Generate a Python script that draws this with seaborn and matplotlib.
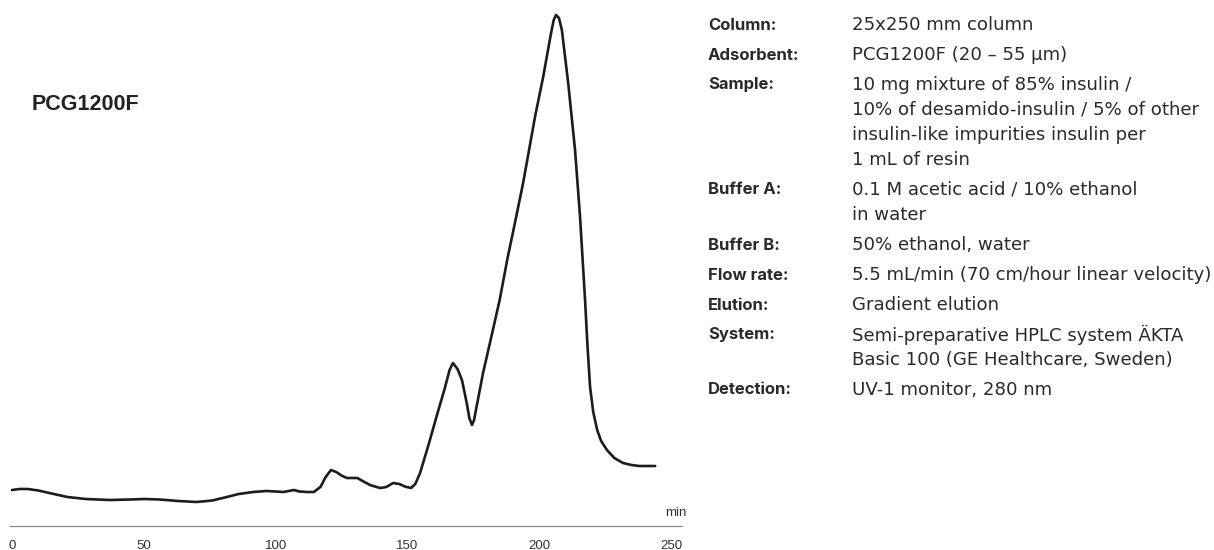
import matplotlib
matplotlib.use("Agg")
import matplotlib.pyplot as plt
import seaborn as sns
import pandas as pd

# ---- data ----
time_min = [0, 3, 6, 10, 15, 21, 28, 37, 45, 50, 56, 63, 70, 76, 81.5, 86, 91.5, 96.6,
            100, 103, 105, 107, 109, 112, 114.5, 117, 119, 121, 123, 125, 127, 129, 131,
            133, 135.8, 139.6, 142, 144.6, 147, 149, 151.4, 153, 154.8, 158, 161, 164,
            166, 167.3, 169, 170.7, 172.5, 173.5, 174.5, 175.3, 176, 178.7, 182, 185, 188,
            190, 193.9, 198.4, 201.5, 204.5, 205.5, 206.4, 207.5, 208.6, 211, 213.6,
            215.5, 217.4, 218.3, 219.3, 220.5, 222, 223.5, 225.7, 228.5, 231.8, 235, 238, 244]
signal = [36, 37, 37, 35.5, 32.5, 29, 27, 26, 26.5, 27, 26.5, 25, 24, 25.5, 29, 32, 34, 35,
          34.5, 34, 35, 36, 34.5, 34, 34, 39, 49, 56, 54, 50.5, 48, 48, 48,
          45, 41, 38, 39, 43, 42, 39.5, 38, 42, 53, 81, 109, 136,
          156, 163, 157, 146, 123, 108, 101, 106, 116, 153, 191, 226, 268,
          293, 343, 409, 449, 493, 506, 511, 508, 496, 443, 376,
          309, 226, 181, 139, 114, 96, 85, 76, 68, 63, 61, 60, 60]

x_ticks = [0, 50, 100, 150, 200, 250]
x_unit = "min"
sample_name = "PCG1200F"

spec_labels = ["Column:", "Adsorbent:", "Sample:", "Buffer A:", "Buffer B:",
               "Flow rate:", "Elution:", "System:", "Detection:"]
spec_values = [
    ["25x250 mm column"],
    ["PCG1200F (20 \u2013 55 \u00b5m)"],
    ["10 mg mixture of 85% insulin /", "10% of desamido-insulin / 5% of other",
     "insulin-like impurities insulin per", "1 mL of resin"],
    ["0.1 M acetic acid / 10% ethanol", "in water"],
    ["50% ethanol, water"],
    ["5.5 mL/min (70 cm/hour linear velocity)"],
    ["Gradient elution"],
    ["Semi-preparative HPLC system \u00c4KTA", "Basic 100 (GE Healthcare, Sweden)"],
    ["UV-1 monitor, 280 nm"],
]

df = pd.DataFrame({"time": time_min, "signal": signal})

# ---- figure ----
sns.set_style("white")
W, H = 1214, 550
fig = plt.figure(figsize=(W / 100, H / 100), dpi=100)

px_per_min = 2.636
x0_px = 12
ax_left, ax_right, ax_bottom = 10, 682, 526
ax = fig.add_axes([ax_left / W, (H - ax_bottom) / H, (ax_right - ax_left) / W, ax_bottom / H])

sns.lineplot(data=df, x="time", y="signal", ax=ax, color="#1c1c1c", linewidth=1.9,
             sort=False, estimator=None)
for ln in ax.lines:
    ln.set_solid_joinstyle("round")
    ln.set_solid_capstyle("round")

ax.set_xlim((ax_left - x0_px) / px_per_min, (ax_right - x0_px) / px_per_min)
ax.set_ylim(0, ax_bottom)
ax.set_xticks(x_ticks)
ax.set_xticklabels([str(t) for t in x_ticks])
ax.set_yticks([])
ax.set_xlabel("")
ax.set_ylabel("")
for s in ["top", "left", "right"]:
    ax.spines[s].set_visible(False)
ax.spines["bottom"].set_color("#8a8a8a")
ax.spines["bottom"].set_linewidth(0.9)
ax.tick_params(axis="x", direction="out", length=3.8, width=0.9, color="#8a8a8a",
               pad=6, labelsize=9.5, labelcolor="#333333")
for lab in ax.get_xticklabels():
    lab.set_family("Liberation Sans")
ax.patch.set_alpha(0)

# unit label
fig.text(687 / W, 1 - 513 / H, x_unit, ha="right", va="center", fontsize=9.5,
         family="Liberation Sans", color="#333333")

# sample name
fig.text(32 / W, 1 - 105 / H, sample_name, ha="left", va="center", fontsize=15.5,
         fontweight="bold", family="Liberation Sans", color="#222222")

# fit the value font so the longest line spans ~358 px, as in the reference
renderer = fig.canvas.get_renderer()
longest = max((v for vals in spec_values for v in vals), key=len)
probe = fig.text(0, 0, "5.5 mL/min (70 cm/hour linear velocity)", fontsize=12,
                 family="DejaVu Sans")
wpx = probe.get_window_extent(renderer).width
probe.remove()
value_fs = 12 * 358 / wpx

# spec block
label_x = 708 / W
value_x = 852 / W
entry_gap = 30
line_gap = 25
y = 25
for lab, vals in zip(spec_labels, spec_values):
    fig.text(label_x, 1 - y / H, lab, ha="left", va="center", fontsize=12,
             fontweight="bold", family="Inter", color="#2a2a2a")
    for i, v in enumerate(vals):
        fig.text(value_x, 1 - (y + i * line_gap) / H, v, ha="left", va="center",
                 fontsize=value_fs, family="DejaVu Sans", color="#2a2a2a")
    y += (len(vals) - 1) * line_gap + entry_gap

fig.savefig("out.png", dpi=100)
